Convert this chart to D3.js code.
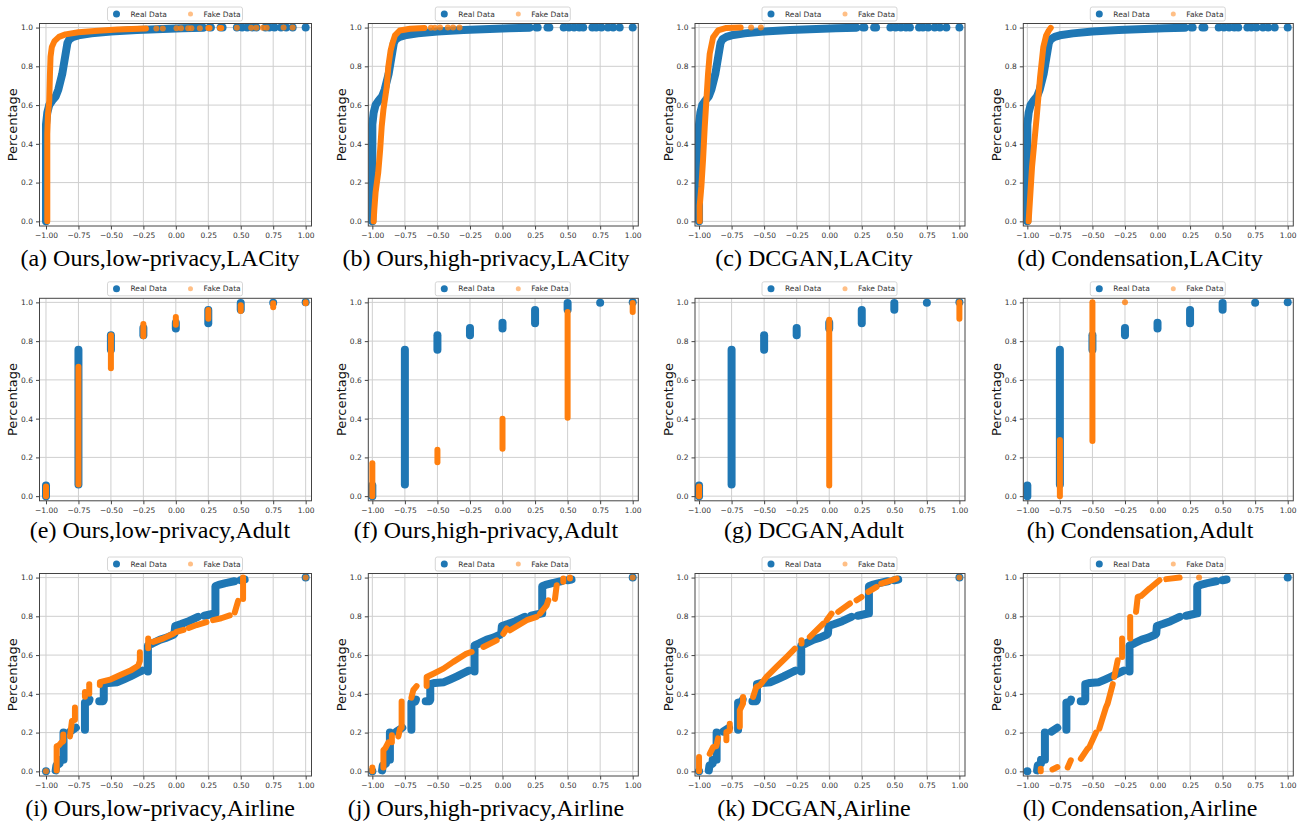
<!DOCTYPE html>
<html>
<head>
<meta charset="utf-8">
<script src="https://cdn.jsdelivr.net/npm/d3@7"></script>
<style>
  body { margin: 0; background: #fff; }
  svg { display: block; }
</style>
</head>
<body>
<svg id="chart" width="1305" height="827"></svg>
<script>
// tick values shared by every panel
const xTicks = [-1, -0.75, -0.5, -0.25, 0, 0.25, 0.5, 0.75, 1];
const yTicks = [0, 0.2, 0.4, 0.6, 0.8, 1.0];

const titles = [
  '(a) Ours,low-privacy,LACity', '(b) Ours,high-privacy,LACity', '(c) DCGAN,LACity', '(d) Condensation,LACity',
  '(e) Ours,low-privacy,Adult', '(f) Ours,high-privacy,Adult', '(g) DCGAN,Adult', '(h) Condensation,Adult',
  '(i) Ours,low-privacy,Airline', '(j) Ours,high-privacy,Airline', '(k) DCGAN,Airline', '(l) Condensation,Airline'
];

// every series = list of runs of points [x, cumulative share]
const realLACity = [
  [[-1.0,0.0],[-1.0,0.5],[-0.99,0.56],[-0.975,0.6],[-0.95,0.625],[-0.925,0.645],[-0.905,0.68],[-0.89,0.72],[-0.875,0.76],[-0.865,0.8],[-0.855,0.84],[-0.845,0.88],[-0.835,0.92],[-0.82,0.94],[-0.79,0.952],[-0.75,0.96],[-0.65,0.97],[-0.5,0.98],[-0.3,0.988],[-0.1,0.993],[0.05,0.996],[0.21,0.999]],
  [[0.26,1.0],[0.27,1.0]], [[0.345,1.0],[0.36,1.0]], [[0.47,1.0]], [[0.51,1.0]], [[0.55,1.0]], [[0.59,1.0]],
  [[0.62,1.0]], [[0.69,1.0]], [[0.72,1.0]], [[0.76,1.0]], [[0.81,1.0]], [[0.85,1.0]], [[0.9,1.0]], [[1.0,1.0]]
];
const fakeLACityOursLow = [
  [[-0.99,0.0],[-0.99,0.45],[-0.985,0.55],[-0.975,0.62],[-0.97,0.75],[-0.965,0.85],[-0.955,0.9],[-0.935,0.93],[-0.9,0.952],[-0.85,0.965],[-0.75,0.976],[-0.6,0.984],[-0.45,0.99],[-0.34,0.993],[-0.23,0.995]],
  [[-0.15,0.995]], [[-0.1,0.995]], [[0.005,0.996]], [[0.04,0.996]], [[0.095,0.997]], [[0.12,0.997]], [[0.185,0.997]],
  [[0.25,0.998],[0.26,0.998]], [[0.34,0.998],[0.35,0.998]], [[0.47,0.999]], [[0.58,0.999]], [[0.62,0.999]],
  [[0.67,0.999]], [[0.7,0.999]], [[0.83,1.0]], [[0.9,1.0]]
];
const fakeLACityOursHigh = [
  [[-0.99,0.0],[-0.985,0.06],[-0.975,0.15],[-0.955,0.25],[-0.94,0.37],[-0.928,0.49],[-0.915,0.575],[-0.89,0.69],[-0.877,0.8],[-0.86,0.88],[-0.845,0.92],[-0.826,0.96],[-0.79,0.985],[-0.71,0.994],[-0.6,0.998]],
  [[-0.55,0.999]], [[-0.52,0.999]], [[-0.48,1.0]], [[-0.42,1.0]], [[-0.38,1.0]], [[-0.33,1.0]]
];
const fakeLACityDCGAN = [
  [[-0.995,0.0],[-0.995,0.08],[-0.982,0.18],[-0.969,0.32],[-0.956,0.49],[-0.944,0.62],[-0.931,0.76],[-0.918,0.865],[-0.892,0.95],[-0.854,0.985],[-0.79,0.998],[-0.68,1.0]],
  [[-0.6,1.0]], [[-0.525,1.0]]
];
const fakeLACityCond = [
  [[-0.99,0.0],[-0.964,0.28],[-0.928,0.54],[-0.902,0.745],[-0.877,0.9],[-0.855,0.96],[-0.835,0.985],[-0.82,0.998]]
];

const realAdult = [
  [[-1,0.0],[-1,0.055]], [[-0.75,0.06],[-0.75,0.755]], [[-0.5,0.755],[-0.5,0.83]], [[-0.25,0.83],[-0.25,0.868]],
  [[0,0.865],[0,0.895]], [[0.25,0.892],[0.25,0.96]], [[0.5,0.962],[0.5,0.997]], [[0.75,0.998]], [[1,1.0]]
];
const fakeAdultOursLow = [
  [[-1,0.0],[-1,0.05]], [[-0.75,0.06],[-0.75,0.668]], [[-0.5,0.66],[-0.5,0.83]], [[-0.25,0.825],[-0.25,0.888]],
  [[0,0.885],[0,0.925]], [[0.25,0.915],[0.25,0.96]], [[0.5,0.955],[0.5,0.985]], [[0.75,0.975],[0.75,0.995]], [[1,0.996],[1,1.0]]
];
const fakeAdultOursHigh = [
  [[-1,0.0],[-1,0.17]], [[-0.5,0.175],[-0.5,0.24]], [[0,0.245],[0,0.4]], [[0.5,0.405],[0.5,0.95]], [[1,0.95],[1,0.997]]
];
const fakeAdultDCGAN = [
  [[-1,0.0],[-1,0.05]], [[0,0.055],[0,0.91]], [[1,0.915],[1,1.0]]
];
const fakeAdultCond = [
  [[-0.75,0.0],[-0.75,0.29]], [[-0.5,0.285],[-0.5,1.0]], [[-0.25,1.0]]
];

const realAirline = [
  [[-1,0.0]],
  [[-0.925,0.005],[-0.92,0.03],[-0.895,0.04],[-0.895,0.06],[-0.865,0.06],[-0.865,0.2]],
  [[-0.815,0.205],[-0.77,0.225]],
  [[-0.70,0.215],[-0.70,0.355],[-0.67,0.36],[-0.665,0.37]],
  [[-0.59,0.362],[-0.56,0.362],[-0.555,0.37],[-0.555,0.45],[-0.52,0.456],[-0.45,0.46],[-0.40,0.475],[-0.35,0.49],[-0.29,0.51],[-0.26,0.52]],
  [[-0.215,0.515],[-0.215,0.65],[-0.18,0.66],[-0.12,0.68],[-0.07,0.69],[-0.02,0.705],[-0.01,0.71],[-0.005,0.75],[0.04,0.76],[0.1,0.775],[0.17,0.797]],
  [[0.22,0.803],[0.28,0.812],[0.305,0.815],[0.305,0.955],[0.33,0.962],[0.375,0.97]],
  [[0.40,0.974],[0.45,0.981]],
  [[0.50,0.986],[0.53,0.99]],
  [[1,1.0]]
];
const fakeAirlineOursLow = [
  [[-1,0.0]],
  [[-0.918,0.005],[-0.918,0.13],[-0.9,0.135],[-0.88,0.15],[-0.867,0.155],[-0.867,0.19]],
  [[-0.815,0.18],[-0.8,0.26],[-0.777,0.265],[-0.777,0.33]],
  [[-0.70,0.385],[-0.70,0.41]],
  [[-0.667,0.4],[-0.667,0.45]],
  [[-0.585,0.445],[-0.585,0.46],[-0.5,0.475],[-0.42,0.5],[-0.35,0.52],[-0.29,0.545],[-0.277,0.57],[-0.277,0.615]],
  [[-0.213,0.635],[-0.213,0.685]],
  [[-0.175,0.668],[-0.1,0.685],[-0.02,0.71]],
  [[0.005,0.72],[0.06,0.73]],
  [[0.1,0.74],[0.16,0.755],[0.236,0.77]],
  [[0.287,0.78],[0.35,0.79],[0.415,0.805]],
  [[0.454,0.82],[0.48,0.88]],
  [[0.518,0.89],[0.518,1.0]],
  [[1,1.0]]
];
const fakeAirlineOursHigh = [
  [[-1,0.0],[-1,0.02]],
  [[-0.915,0.02],[-0.915,0.11],[-0.9,0.12],[-0.877,0.15]],
  [[-0.85,0.15],[-0.85,0.186]],
  [[-0.8,0.18],[-0.787,0.22],[-0.775,0.225],[-0.775,0.36]],
  [[-0.7,0.38],[-0.685,0.42],[-0.66,0.44]],
  [[-0.583,0.44],[-0.583,0.487],[-0.531,0.504],[-0.454,0.53],[-0.378,0.565],[-0.276,0.608],[-0.237,0.616]],
  [[-0.147,0.642],[-0.045,0.676]],
  [[0.006,0.71],[0.032,0.737]],
  [[0.058,0.728],[0.186,0.78],[0.262,0.797]],
  [[0.288,0.814],[0.339,0.857],[0.352,0.883]],
  [[0.403,0.89],[0.416,0.96]],
  [[0.467,0.978],[0.467,0.995]],
  [[0.518,0.995],[0.518,1.0]],
  [[1,1.0]]
];
const fakeAirlineDCGAN = [
  [[-1,0.0],[-1,0.074]],
  [[-0.918,0.09],[-0.892,0.125],[-0.867,0.13],[-0.854,0.17]],
  [[-0.79,0.16],[-0.79,0.203],[-0.764,0.21],[-0.764,0.246]],
  [[-0.687,0.23],[-0.687,0.315],[-0.662,0.35],[-0.662,0.384]],
  [[-0.585,0.384],[-0.56,0.435],[-0.533,0.444],[-0.482,0.487],[-0.405,0.539],[-0.328,0.59],[-0.264,0.633]],
  [[-0.213,0.66],[-0.213,0.676]],
  [[-0.149,0.694],[-0.046,0.762]],
  [[-0.02,0.78],[0.018,0.814]],
  [[0.069,0.823],[0.159,0.866]],
  [[0.21,0.883],[0.249,0.9]],
  [[0.3,0.926],[0.364,0.952]],
  [[0.4,0.969],[0.518,0.995]],
  [[1,1.0]]
];
const fakeAirlineCond = [
  [[-0.897,0.0],[-0.897,0.014]],
  [[-0.807,0.01],[-0.769,0.022]],
  [[-0.69,0.02],[-0.666,0.057]],
  [[-0.589,0.065],[-0.537,0.117],[-0.524,0.125],[-0.473,0.2]],
  [[-0.447,0.22],[-0.396,0.33],[-0.383,0.35],[-0.344,0.45]],
  [[-0.332,0.487],[-0.306,0.573]],
  [[-0.272,0.59],[-0.272,0.685]],
  [[-0.21,0.685],[-0.21,0.797]],
  [[-0.165,0.823],[-0.152,0.9],[-0.126,0.905],[-0.062,0.943]],
  [[-0.049,0.95],[0.015,0.986]],
  [[0.067,0.992],[0.17,1.0]],
  [[0.319,1.0]]
];

const realSeries = [realLACity, realLACity, realLACity, realLACity, realAdult, realAdult, realAdult, realAdult,
  realAirline, realAirline, realAirline, realAirline];
const fakeSeries = [fakeLACityOursLow, fakeLACityOursHigh, fakeLACityDCGAN, fakeLACityCond,
  fakeAdultOursLow, fakeAdultOursHigh, fakeAdultDCGAN, fakeAdultCond,
  fakeAirlineOursLow, fakeAirlineOursHigh, fakeAirlineDCGAN, fakeAirlineCond];

// layout
const svg = d3.select('#chart');
const colLeft = [39.5, 368.3, 695, 1023.3];
const colWidth = [272, 270, 270, 270];
const rowTop = [23.5, 298.3, 573.5];
const plotH = 202.5;
const titleX = [160, 486, 814, 1140];
const titleY = [266, 538, 816];
const xDomains = [[-1.05, 1.045], [-1.031, 1.043], [-1.031, 1.043], [-1.031, 1.043]];
const blue = '#1f77b4', orange = '#ff7f0e';
const sans = 'DejaVu Sans, sans-serif';

titles.forEach((title, i) => {
  const r = Math.floor(i / 4), c = i % 4;
  const w = colWidth[c];
  const x = d3.scaleLinear().domain(xDomains[c]).range([0, w]);
  const y = d3.scaleLinear().domain([-0.024, 1.021]).range([plotH, 0]);
  const g = svg.append('g').attr('transform', `translate(${colLeft[c]},${rowTop[r]})`);

  // grid lines
  g.append('g').selectAll('line').data(xTicks).join('line')
    .attr('x1', d => x(d)).attr('x2', d => x(d)).attr('y1', 0).attr('y2', plotH)
    .attr('stroke', '#cfcfcf').attr('stroke-width', 1);
  g.append('g').selectAll('line').data(yTicks).join('line')
    .attr('y1', d => y(d)).attr('y2', d => y(d)).attr('x1', 0).attr('x2', w)
    .attr('stroke', '#cfcfcf').attr('stroke-width', 1);

  // axes
  g.append('g').attr('transform', `translate(0,${plotH})`)
    .call(d3.axisBottom(x).tickValues(xTicks).tickFormat(d3.format('.2f')).tickSize(3.5).tickPadding(3))
    .call(a => a.select('.domain').remove());
  g.append('g')
    .call(d3.axisLeft(y).tickValues(yTicks).tickFormat(d3.format('.1f')).tickSize(3.5).tickPadding(3))
    .call(a => a.select('.domain').remove());
  g.selectAll('.tick text').attr('font-family', sans).attr('font-size', '7.5px').attr('fill', '#333');
  g.selectAll('.tick line').attr('stroke', '#444');

  // points
  const clipId = 'clip' + i;
  g.append('clipPath').attr('id', clipId).append('rect').attr('width', w).attr('height', plotH);
  const layer = g.append('g').attr('clip-path', `url(#${clipId})`);
  const line = d3.line().x(d => x(d[0])).y(d => y(d[1]));

  function drawSeries(segs, color, rad, dotOpacity) {
    layer.append('g').selectAll('path').data(segs.filter(s => s.length > 1)).join('path')
      .attr('d', line).attr('fill', 'none').attr('stroke', color).attr('stroke-width', rad * 2)
      .attr('stroke-linecap', 'round').attr('stroke-linejoin', 'round');
    layer.append('g').selectAll('circle').data(segs.filter(s => s.length === 1)).join('circle')
      .attr('cx', s => x(s[0][0])).attr('cy', s => y(s[0][1])).attr('r', rad)
      .attr('fill', color).attr('fill-opacity', dotOpacity);
  }
  drawSeries(realSeries[i], blue, 4, 1);
  drawSeries(fakeSeries[i], orange, 3, 0.8);

  // frame
  g.append('rect').attr('width', w).attr('height', plotH)
    .attr('fill', 'none').attr('stroke', '#444').attr('stroke-width', 1);

  // y label
  g.append('text')
    .attr('transform', `translate(-27,${plotH / 2}) rotate(-90)`)
    .attr('text-anchor', 'middle').attr('dy', '0.35em')
    .attr('font-family', sans).attr('font-size', '13px').attr('fill', '#111')
    .text('Percentage');

  // legend
  const lg = g.append('g').attr('transform', `translate(${w / 2 - 68},-16.5)`);
  lg.append('rect').attr('width', 135).attr('height', 14).attr('rx', 2)
    .attr('fill', '#fff').attr('stroke', '#cccccc').attr('stroke-width', 0.8);
  lg.append('circle').attr('cx', 9).attr('cy', 7).attr('r', 3.5).attr('fill', blue);
  lg.append('circle').attr('cx', 83).attr('cy', 7).attr('r', 2.5).attr('fill', orange).attr('fill-opacity', 0.5);
  lg.selectAll('text').data(['Real Data', 'Fake Data']).join('text')
    .attr('x', (d, k) => k === 0 ? 23 : 96).attr('y', 9.7)
    .attr('font-family', sans).attr('font-size', '7.5px').attr('fill', '#333')
    .text(d => d);

  // caption
  svg.append('text')
    .attr('x', titleX[c]).attr('y', titleY[r])
    .attr('text-anchor', 'middle')
    .attr('font-family', 'Liberation Serif, Times New Roman, serif').attr('font-size', '24px').attr('fill', '#000')
    .text(title);
});
</script>
</body>
</html>
